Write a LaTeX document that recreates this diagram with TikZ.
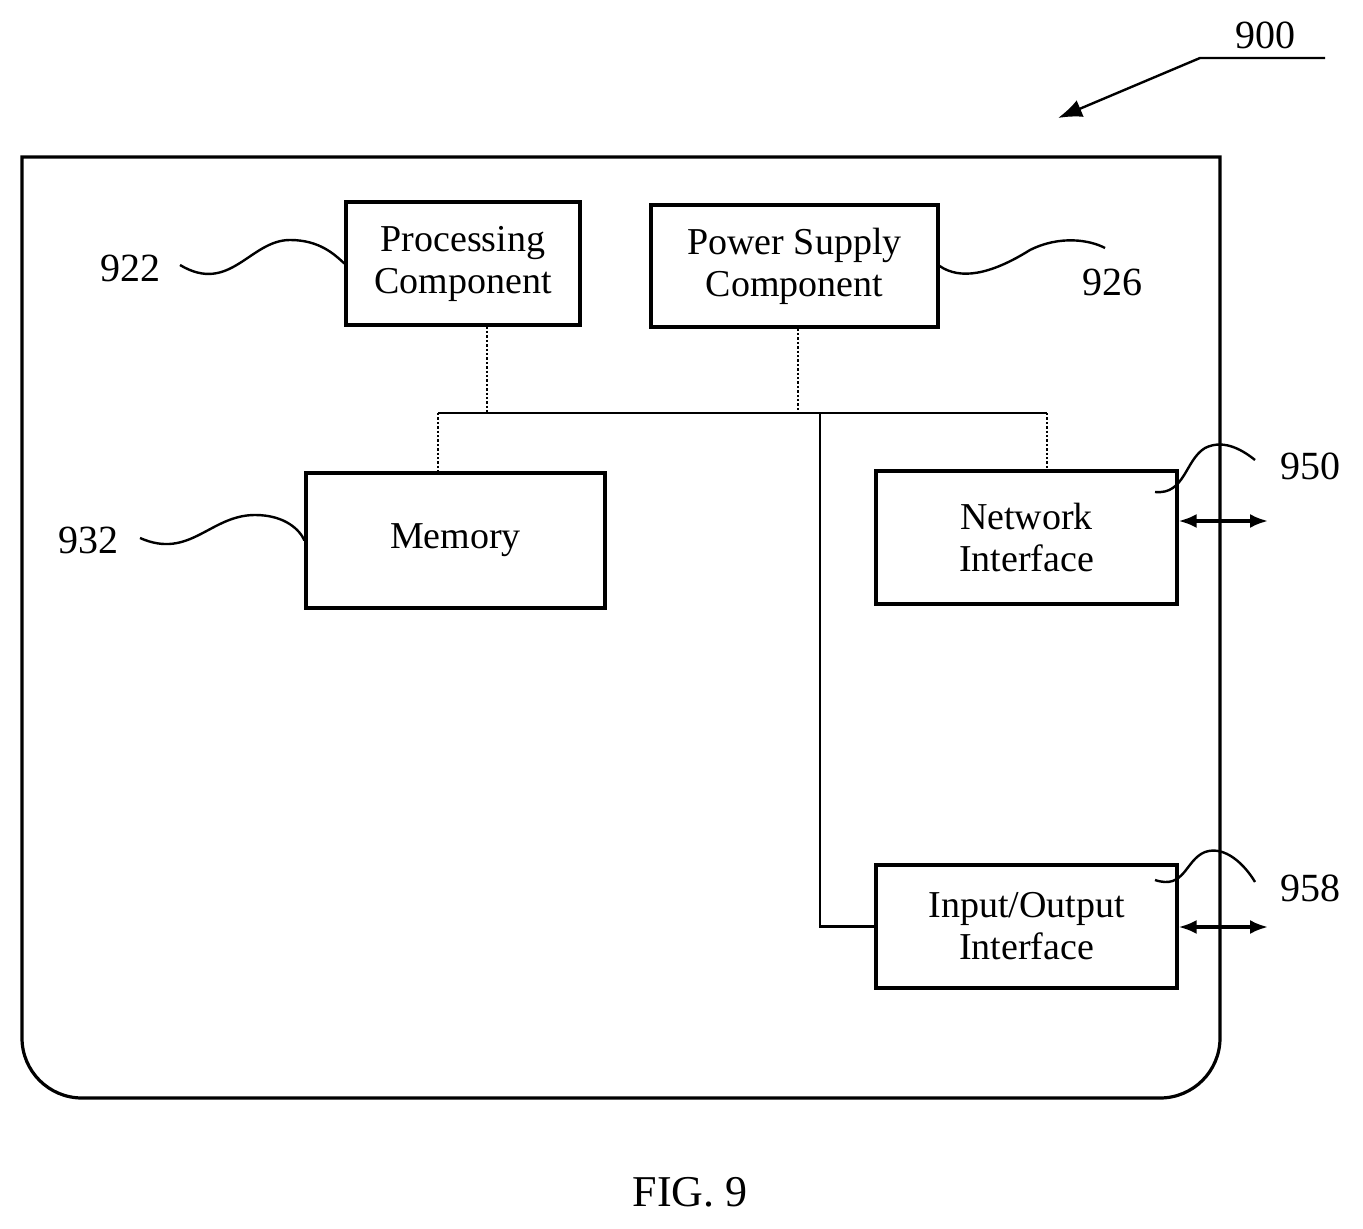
\documentclass[tikz,border=0pt]{standalone}
\usepackage{fontspec}
\setmainfont{Liberation Serif}
\usetikzlibrary{arrows.meta}
\begin{document}
\begin{tikzpicture}[x=0.5pt,y=-0.5pt,
  box/.style={draw,line width=1.6pt,align=center,inner sep=0,font=\fontsize{19}{21}\selectfont},
  lbl/.style={font=\fontsize{20}{22}\selectfont},
  dot/.style={densely dotted,line width=1.2pt},
  ln/.style={line width=1.2pt}]
\useasboundingbox (0,0) rectangle (1363,1229);
\draw[line width=1.6pt] (22,157) -- (1220,157) -- (1220,1038) arc[start angle=0,end angle=90,radius=60] -- (82,1098) arc[start angle=90,end angle=180,radius=60] -- cycle;
\node[box,minimum width=117pt,minimum height=61.5pt] (proc) at (463,263.5) {Processing\\Component};
\node[box,minimum width=143.5pt,minimum height=61pt] (pow) at (794.5,266) {Power Supply\\Component};
\node[box,minimum width=149.5pt,minimum height=67.5pt] (mem) at (455.5,540.5) {Memory};
\node[box,minimum width=150.5pt,minimum height=66.5pt] (net) at (1026.5,537.5) {Network\\Interface};
\node[box,minimum width=150.5pt,minimum height=61.5pt] (io) at (1026.5,926.5) {Input/Output\\Interface};
\coordinate (bl) at (438,413); \coordinate (br) at (1047,413);
\draw[ln] (bl) -- (br);
\draw[dot] (proc.south -| 487,0) -- (487,413);
\draw[dot] (pow.south -| 798,0) -- (798,413);
\draw[dot] (bl) -- (mem.north -| bl);
\draw[dot] (br) -- (net.north -| br);
\coordinate (tap) at (820,413);
\draw[ln] (tap) |- (io.west);
\coordinate (na) at (1268,521); \coordinate (ia) at (1268,927);
\draw[line width=1.6pt,{Latex[length=9pt,width=7pt]}-{Latex[length=9pt,width=7pt]}] (net.east |- na) -- (na);
\draw[line width=1.6pt,{Latex[length=9pt,width=7pt]}-{Latex[length=9pt,width=7pt]}] (io.east |- ia) -- (ia);
\node[lbl] (l922) at (130,268) {922};
\node[lbl] (l926) at (1112,282) {926};
\node[lbl] (l932) at (88,540) {932};
\node[lbl] (l950) at (1310,466) {950};
\node[lbl] (l958) at (1310,888) {958};
\node[lbl] (l900) at (1265,35) {900};
\node[font=\fontsize{22}{24}\selectfont] (fig) at (690,1192) {FIG. 9};
\draw[ln] (180,265) .. controls (230,295) and (250,240) .. (290,240) .. controls (320,240) and (335,255) .. (proc.west);
\draw[ln] (pow.east) .. controls (960,280) and (990,275) .. (1030,250) .. controls (1060,235) and (1090,240) .. (1105,248);
\draw[ln] (140,538) .. controls (190,560) and (210,515) .. (255,515) .. controls (285,515) and (300,530) .. (mem.west);
\draw[ln] (1155,492) .. controls (1185,495) and (1185,460) .. (1205,448) .. controls (1225,438) and (1245,452) .. (1255,460);
\draw[ln] (1155,880) .. controls (1185,890) and (1185,860) .. (1205,852) .. controls (1225,845) and (1245,865) .. (1255,882);
\coordinate (a0) at (1325,58); \coordinate (a1) at (1200,58); \coordinate (a2) at (1058,118);
\draw[ln,-{Latex[length=12pt,width=9pt]}] (a0) -- (a1) -- (a2);
\end{tikzpicture}
\end{document}
